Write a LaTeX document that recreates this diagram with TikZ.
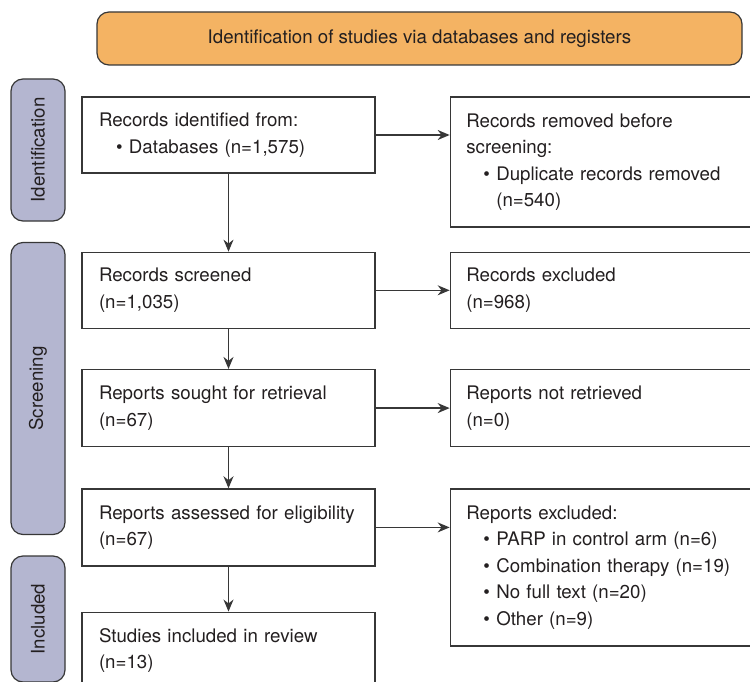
\documentclass[tikz,border=0pt]{standalone}
\usepackage{fontspec}
\setmainfont{TeX Gyre Heros}
\usetikzlibrary{positioning, calc, arrows.meta}
\definecolor{bannerorange}{RGB}{244,179,99}
\definecolor{stagelav}{RGB}{180,182,208}
\definecolor{edgegray}{RGB}{55,55,55}
\definecolor{textgray}{RGB}{35,31,32}
\newcommand{\bitem}[1]{\hspace*{17pt}\makebox[13pt][l]{\textbullet}#1}

\begin{document}
\begin{tikzpicture}[
        x=1pt, y=-1pt,
        every node/.style={font=\fontsize{18.7}{26.5}\selectfont, text=textgray},
        banner/.style={rectangle, draw=edgegray, fill=bannerorange, line width=1.2pt,
                       minimum width=645pt, minimum height=53pt, rounded corners=12pt},
        stage/.style={rectangle, draw=edgegray, fill=stagelav, line width=1.2pt,
                      rotate=90, minimum height=54pt, rounded corners=12pt},
        leftbox/.style={rectangle, draw=edgegray, line width=1.3pt,
                        text width=259pt, inner xsep=17pt, minimum height=76pt, align=left},
        rightbox/.style={rectangle, draw=edgegray, line width=1.3pt,
                         text width=272pt, inner xsep=16pt, minimum height=76pt, align=left},
        flow/.style={-{Stealth[length=12pt, width=10pt]}, line width=1.3pt, edgegray},
    ]
    \useasboundingbox (0,0) rectangle (750,682);

    % ===== Top banner =====
    \node[banner] (BAN) at (419.5,38.5) {Identification of studies via databases and registers};

    % ===== Stage labels on the left =====
    \node[stage, minimum width=142pt] (SID) at (38,150) {Identification};
    \node[stage, minimum width=292pt] (SSC) at (38,388.5) {Screening};
    \node[stage, minimum width=126pt] (SIN) at (38,619) {Included};

    % ===== Main column =====
    \node[leftbox] (L1) at (228.5,135)
        {Records identified from:\\ \bitem{Databases (n=1,575)}};
    \node[leftbox, below=78pt of L1] (L2)
        {Records screened\\ (n=1,035)};
    \node[leftbox, below=40pt of L2, minimum height=77pt] (L3)
        {Reports sought for retrieval\\ (n=67)};
    \node[leftbox, below=41pt of L3, minimum height=77pt] (L4)
        {Reports assessed for eligibility\\ (n=67)};
    \node[leftbox, below=45pt of L4, minimum height=77pt] (L5)
        {Studies included in review\\ (n=13)};

    % ===== Side column =====
    \node[rightbox, right=74pt of L1.north east, anchor=north west, minimum height=130pt] (R1)
        {Records removed before\\ screening:\\ \bitem{Duplicate records removed}\\ \hspace*{30pt}(n=540)};
    \node[rightbox, right=74pt of L2] (R2)
        {Records excluded\\ (n=968)};
    \node[rightbox, right=74pt of L3, minimum height=77pt] (R3)
        {Reports not retrieved\\ (n=0)};
    \node[rightbox, right=74pt of L4.north east, anchor=north west, minimum height=157pt] (R4)
        {Reports excluded:\\ \bitem{PARP in control arm (n=6)}\\ \bitem{Combination therapy (n=19)}\\
         \bitem{No full text (n=20)}\\ \bitem{Other (n=9)}};

    % Arrows down the main column
    \foreach \a/\b in {L1/L2, L2/L3, L3/L4, L4/L5} { \draw[flow] (\a) -- (\b); }

    % Arrows to the side column
    \foreach \a/\b in {L1/R1, L2/R2, L3/R3, L4/R4} { \draw[flow] (\a.east) -- (\a.east -| \b.west); }

\end{tikzpicture}
\end{document}
